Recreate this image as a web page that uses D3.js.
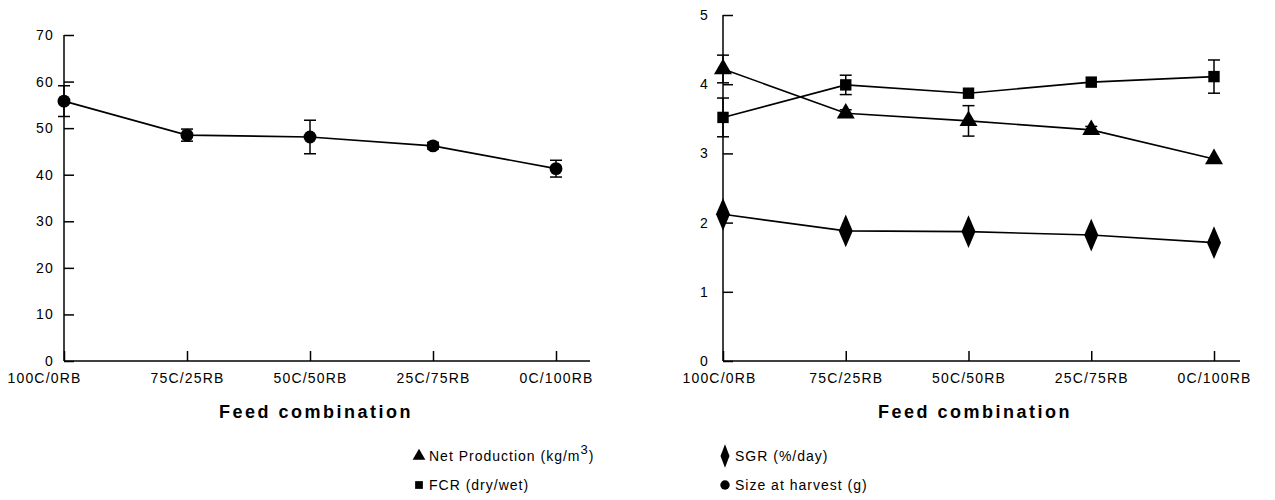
<!DOCTYPE html>
<html>
<head>
<meta charset="utf-8">
<script src="https://cdn.jsdelivr.net/npm/d3@7"></script>
<style>
  body { margin: 0; background: #fff; }
  svg { display: block; }
  text { font-family: "Liberation Sans", Arial, sans-serif; fill: #000; }
  .tick text { font-size: 14px; letter-spacing: 1.2px; }
  .title { font-size: 18px; font-weight: bold; letter-spacing: 2.5px; }
  .legend { font-size: 14px; letter-spacing: 1px; }
</style>
</head>
<body>
<div id="chart"></div>
<script>
// Feed combinations on the x axis of both panels
const categories = ["100C/0RB", "75C/25RB", "50C/50RB", "25C/75RB", "0C/100RB"];

// Left panel: size at harvest (g)
const sizeHarvest = [55.8, 48.5, 48.1, 46.2, 41.3];
const sizeErr = [3.3, 1.3, 3.6, 0.7, 1.8];

// Right panel
const netProduction = [4.22, 3.58, 3.47, 3.34, 2.92];
const netErr = [0.2, 0.05, 0.22, 0.05, 0];
const fcr = [3.52, 3.99, 3.87, 4.03, 4.11];
const fcrErr = [0.28, 0.14, 0, 0, 0.24];
const sgr = [2.12, 1.88, 1.87, 1.82, 1.71];

const leftTicks = [0, 10, 20, 30, 40, 50, 60, 70];
const rightTicks = [0, 1, 2, 3, 4, 5];

const svg = d3.select("#chart")
  .append("svg")
  .attr("width", 1275)
  .attr("height", 500);

// Panel geometry
const left = { x0: 64, x1: 556, xEnd: 590, yTop: 35, yBot: 361, firstDx: -20 };
const right = { x0: 723, x1: 1214, xEnd: 1240, yTop: 15, yBot: 361, firstDx: -4 };

const xLeft = d3.scalePoint().domain(categories).range([left.x0, left.x1]);
const yLeft = d3.scaleLinear().domain([0, 70]).range([left.yBot, left.yTop]);
const xRight = d3.scalePoint().domain(categories).range([right.x0, right.x1]);
const yRight = d3.scaleLinear().domain([0, 5]).range([right.yBot, right.yTop]);

function drawAxes(p, x, y, ticks, yPad) {
  // axis lines
  svg.append("line")
    .attr("x1", p.x0).attr("x2", p.x0).attr("y1", p.yTop).attr("y2", p.yBot)
    .attr("stroke", "#000").attr("stroke-width", 1.5);
  svg.append("line")
    .attr("x1", p.x0).attr("x2", p.xEnd).attr("y1", p.yBot).attr("y2", p.yBot)
    .attr("stroke", "#000").attr("stroke-width", 1.5);

  const yAxis = svg.append("g")
    .attr("transform", `translate(${p.x0},0)`)
    .call(d3.axisLeft(y).tickValues(ticks).tickSize(-10).tickPadding(yPad).tickFormat(d3.format("d")));
  yAxis.select(".domain").remove();
  yAxis.selectAll(".tick line").attr("stroke-width", 1.5);

  const xAxis = svg.append("g")
    .attr("transform", `translate(0,${p.yBot})`)
    .call(d3.axisBottom(x).tickSize(-10).tickPadding(12));
  xAxis.select(".domain").remove();
  xAxis.selectAll(".tick line").attr("stroke-width", 1.5);
  // first label sits left of the y axis in the original
  xAxis.selectAll(".tick text").filter(d => d === categories[0]).attr("dx", p.firstDx);
}

function errorBars(x, y, vals, errs) {
  const g = svg.append("g").attr("stroke", "#000").attr("stroke-width", 1.5);
  vals.forEach((v, i) => {
    if (!errs[i]) return;
    const cx = x(categories[i]);
    g.append("line").attr("x1", cx).attr("x2", cx)
      .attr("y1", y(v - errs[i])).attr("y2", y(v + errs[i]));
    [v - errs[i], v + errs[i]].forEach(e => {
      g.append("line").attr("x1", cx - 6).attr("x2", cx + 6)
        .attr("y1", y(e)).attr("y2", y(e));
    });
  });
}

function series(x, y, vals, symbol, size, scaleY) {
  const line = d3.line()
    .x((d, i) => x(categories[i]))
    .y(d => y(d));
  svg.append("path")
    .datum(vals)
    .attr("d", line)
    .attr("fill", "none")
    .attr("stroke", "#000")
    .attr("stroke-width", 1.6);
  svg.append("g").selectAll("path")
    .data(vals)
    .join("path")
    .attr("d", d3.symbol().type(symbol).size(size))
    .attr("transform", (d, i) => `translate(${x(categories[i])},${y(d)}) scale(1,${scaleY || 1})`)
    .attr("fill", "#000");
}

drawAxes(left, xLeft, yLeft, leftTicks, 10);
drawAxes(right, xRight, yRight, rightTicks, 14);

// Left panel
errorBars(xLeft, yLeft, sizeHarvest, sizeErr);
series(xLeft, yLeft, sizeHarvest, d3.symbolCircle, 130);

// Right panel
errorBars(xRight, yRight, netProduction, netErr);
errorBars(xRight, yRight, fcr, fcrErr);
series(xRight, yRight, netProduction, d3.symbolTriangle, 140);
series(xRight, yRight, fcr, d3.symbolSquare, 130);
series(xRight, yRight, sgr, d3.symbolDiamond, 170, 1.35);

// Axis titles
svg.append("text").attr("class", "title")
  .attr("x", 316).attr("y", 418).attr("text-anchor", "middle")
  .text("Feed combination");
svg.append("text").attr("class", "title")
  .attr("x", 975).attr("y", 418).attr("text-anchor", "middle")
  .text("Feed combination");

// Legend
const legendItems = [
  { label: "Net Production (kg/m", sup: "3", tail: ")", symbol: d3.symbolTriangle, size: 70, sy: 1, col: 0, row: 0 },
  { label: "SGR (%/day)", symbol: d3.symbolDiamond, size: 70, sy: 1.5, col: 1, row: 0 },
  { label: "FCR (dry/wet)", symbol: d3.symbolSquare, size: 60, sy: 1, col: 0, row: 1 },
  { label: "Size at harvest (g)", symbol: d3.symbolCircle, size: 70, sy: 1, col: 1, row: 1 }
];
const legendX = [419, 725];
const legendY = [461, 490];

legendItems.forEach(it => {
  const lx = legendX[it.col], ly = legendY[it.row];
  svg.append("path")
    .attr("d", d3.symbol().type(it.symbol).size(it.size))
    .attr("transform", `translate(${lx},${ly - 5}) scale(1,${it.sy})`)
    .attr("fill", "#000");
  const t = svg.append("text").attr("class", "legend")
    .attr("x", lx + 10).attr("y", ly);
  t.append("tspan").text(it.label);
  if (it.sup) {
    t.append("tspan").attr("dy", -7).attr("font-size", 13).text(it.sup);
    t.append("tspan").attr("dy", 7).text(it.tail);
  }
});
</script>
</body>
</html>
